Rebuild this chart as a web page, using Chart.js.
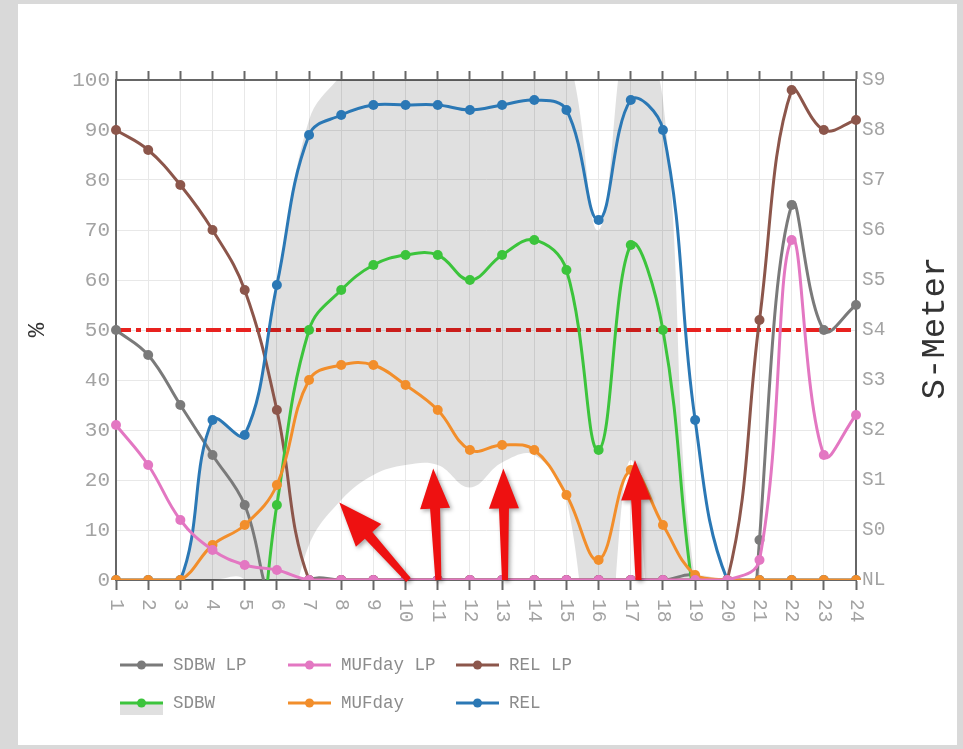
<!DOCTYPE html>
<html><head><meta charset="utf-8">
<script src="https://cdn.jsdelivr.net/npm/chart.js@4.4.1/dist/chart.umd.min.js"></script>
<style>
html,body{margin:0;padding:0;background:#d9d9d9;width:963px;height:749px;overflow:hidden;}
#panel{position:absolute;left:18px;top:4px;width:939px;height:741px;background:#fff;}
#wrap{position:absolute;left:0;top:0;width:963px;height:749px;}
</style></head><body>
<div id="panel"></div>
<div id="wrap"><canvas id="c" width="963" height="749"></canvas></div>
<script>
// ---- data ----
const hours = ['1','2','3','4','5','6','7','8','9','10','11','12','13','14','15','16','17','18','19','20','21','22','23','24'];
const sMeterLabels = ['NL','S0','S1','S2','S3','S4','S5','S6','S7','S8','S9'];
const sdbwLp   = [50,45,35,25,15,-6,0,0,0,0,0,0,0,0,0,0,0,0,0,-100,8,75,50,55];
const mufdayLp = [31,23,12,6,3,2,0,0,0,0,0,0,0,0,0,0,0,0,0,0,4,68,25,33];
const relLp    = [90,86,79,70,58,34,0,0,0,0,0,0,0,0,0,0,0,0,0,0,52,98,90,92];
const sdbw     = [-30,-30,-30,-30,-30,15,50,58,63,65,65,60,65,68,62,26,67,50,-5,-30,-30,-30,-30,-30];
const mufday   = [0,0,0,7,11,19,40,43,43,39,34,26,27,26,17,4,22,11,1,0,0,0,0,0];
const rel      = [0,0,0,32,29,59,89,93,95,95,95,94,95,96,94,72,96,90,32,0,0,0,0,0];
// SDBW spread band (grey area)
const bandHigh = [0,0,0,32,29,59,92,101,108,108,108,108,108,108,106,70,113,96,0,0,0,0,0,0];
const bandLow  = [0,0,0,0,0,-15,7,16,21,23,23,18.5,23.5,25,16,-30,24,-30,0,0,0,0,0,0];
const thresholdValue = 50;
// annotation arrows: [tailHour, tailValue, tipHour, tipValue]
const arrows = [[10.09,0,7.94,15.5],[11.02,0,10.86,22.3],[13.09,0,13.04,22.3],[17.24,0,17.13,24]];

const MONO = "'Liberation Mono','Courier New',monospace";
const C = {grey:'#7a7a7a', pink:'#e377c2', brown:'#8c564b', green:'#3cc43c', orange:'#f28e2b', blue:'#2b78b5'};

function ds(label, data, color, order, band){
  return {label, data, borderColor:color, backgroundColor:color, borderWidth:3, pointRadius:5,
    pointHoverRadius:5, pointBorderWidth:0, tension:0.4, fill:false, order, _band:band||false};
}

const overlay = {
  id:'overlay',
  beforeDatasetsDraw(chart){
    const {ctx, chartArea:a, scales:{y}} = chart;
    const py = y.getPixelForValue(thresholdValue);
    ctx.save();
    ctx.strokeStyle = '#e8221f'; ctx.lineWidth = 4; ctx.setLineDash([15,5,5,5]);
    ctx.beginPath(); ctx.moveTo(a.left, py); ctx.lineTo(a.right, py); ctx.stroke();
    ctx.restore();
  },
  afterDatasetsDraw(chart){
    const {ctx, scales:{x, y}} = chart;
    ctx.save();
    arrows.forEach(([th,tv,hh,hv],k)=>{
      const tx = x.getPixelForValue(th-1), ty = y.getPixelForValue(tv);
      const hx = x.getPixelForValue(hh-1), hy = y.getPixelForValue(hv);
      const dx = hx-tx, dy = hy-ty, len = Math.hypot(dx,dy);
      const ux = dx/len, uy = dy/len, nx = -uy, ny = ux;
      const HL = k===0?44:40, HW = k===0?17:15, SW0 = 3, SW1 = 5;
      const bx = hx-ux*HL, by = hy-uy*HL;
      const pts = [
        [tx+nx*SW0, ty+ny*SW0],[bx+nx*SW1, by+ny*SW1],[bx+nx*HW, by+ny*HW],[hx,hy],
        [bx-nx*HW, by-ny*HW],[bx-nx*SW1, by-ny*SW1],[tx-nx*SW0, ty-ny*SW0]];
      ctx.shadowColor='rgba(0,0,0,0.35)'; ctx.shadowBlur=4; ctx.shadowOffsetX=2; ctx.shadowOffsetY=2;
      ctx.fillStyle='#ee1111';
      ctx.beginPath(); pts.forEach((p,i)=> i?ctx.lineTo(p[0],p[1]):ctx.moveTo(p[0],p[1])); ctx.closePath(); ctx.fill();
    });
    ctx.restore();
  },
  afterDraw(chart){
    const {ctx, chartArea:a, scales:{x}} = chart;
    ctx.save();
    // x tick labels, rotated clockwise
    ctx.fillStyle='#a3a3a3'; ctx.font = '19.5px '+MONO; ctx.textAlign='left'; ctx.textBaseline='middle';
    hours.forEach((h,i)=>{
      const px = x.getPixelForValue(i);
      ctx.save(); ctx.translate(px, a.bottom+19); ctx.rotate(Math.PI/2); ctx.fillText(h,0,0); ctx.restore();
    });
    // axis titles
    ctx.fillStyle='#333'; ctx.textAlign='center'; ctx.textBaseline='middle';
    ctx.font='24px '+MONO;
    ctx.save(); ctx.translate(38, (a.top+a.bottom)/2); ctx.rotate(-Math.PI/2); ctx.fillText('%',0,0); ctx.restore();
    ctx.font='34px '+MONO;
    ctx.save(); ctx.translate(935, (a.top+a.bottom)/2-2); ctx.rotate(-Math.PI/2); ctx.fillText('S-Meter',0,0); ctx.restore();
    // legend
    const items = chart.data.datasets.filter(d=>d.label && !d._hidden);
    const legendOrder = ['SDBW LP','MUFday LP','REL LP','SDBW','MUFday','REL'];
    ctx.font='17.5px '+MONO; ctx.textAlign='left'; ctx.textBaseline='middle';
    legendOrder.forEach((lab,i)=>{
      const d = items.find(it=>it.label===lab);
      const col = i%3, row = Math.floor(i/3);
      const lx = a.left+4+col*168, ly = a.bottom+85+row*38;
      if (d._band){ ctx.fillStyle='rgba(0,0,0,0.12)'; ctx.fillRect(lx, ly+1, 43, 11); }
      ctx.strokeStyle=d.borderColor; ctx.lineWidth=3; ctx.setLineDash([]);
      ctx.beginPath(); ctx.moveTo(lx,ly); ctx.lineTo(lx+43,ly); ctx.stroke();
      ctx.fillStyle=d.borderColor; ctx.beginPath(); ctx.arc(lx+21.5,ly,4.5,0,Math.PI*2); ctx.fill();
      ctx.fillStyle='#8c8c8c'; ctx.fillText(lab, lx+53, ly);
    });
    ctx.restore();
  }
};

const bandLowDs = {label:'', _hidden:true, data:bandLow, borderColor:'rgba(0,0,0,0)', borderWidth:0, pointRadius:0, tension:0.4, fill:false, order:20};
const bandHighDs = {label:'', _hidden:true, data:bandHigh, borderColor:'rgba(0,0,0,0)', borderWidth:0, pointRadius:0, tension:0.4, fill:'-1', backgroundColor:'rgba(0,0,0,0.12)', order:19};

new Chart(document.getElementById('c'), {
  type:'line',
  data:{
    labels: hours,
    datasets:[
      bandLowDs, bandHighDs,
      ds('SDBW LP', sdbwLp, C.grey, 5),
      ds('MUFday LP', mufdayLp, C.pink, 0),
      ds('REL LP', relLp, C.brown, 4),
      ds('SDBW', sdbw, C.green, 3, true),
      ds('MUFday', mufday, C.orange, 1),
      ds('REL', rel, C.blue, 2)
    ]
  },
  options:{
    responsive:false, animation:false, events:[],
    layout:{padding:0},
    plugins:{legend:{display:false}, tooltip:{enabled:false}},
    scales:{
      x:{type:'category', position:'bottom', offset:false,
        grid:{color:'#e8e8e8', lineWidth:1, drawTicks:true, tickLength:10, tickColor:'#666', tickWidth:2},
        border:{display:true, color:'#666', width:2},
        ticks:{display:false, autoSkip:false},
        afterFit:s=>{s.height=169;}},
      xTop:{type:'category', labels:hours, position:'top', offset:false,
        grid:{drawOnChartArea:false, drawTicks:true, tickLength:9, tickColor:'#666', tickWidth:2},
        border:{display:true, color:'#666', width:2},
        ticks:{display:false, autoSkip:false},
        afterFit:s=>{s.height=80;}},
      y:{position:'left', min:0, max:100,
        grid:{color:'#e8e8e8', drawTicks:false},
        border:{display:true, color:'#666', width:2},
        ticks:{stepSize:10, color:'#a3a3a3', padding:6, font:{family:MONO, size:21}},
        afterFit:s=>{s.width=116;}},
      yS:{position:'right', min:0, max:100,
        grid:{drawOnChartArea:false, drawTicks:false},
        border:{display:true, color:'#666', width:2},
        ticks:{stepSize:10, color:'#a3a3a3', padding:6, font:{family:MONO, size:19.5},
          callback:(v,i)=>sMeterLabels[i]},
        afterFit:s=>{s.width=107;}}
    }
  },
  plugins:[overlay]
});
</script>
</body></html>
